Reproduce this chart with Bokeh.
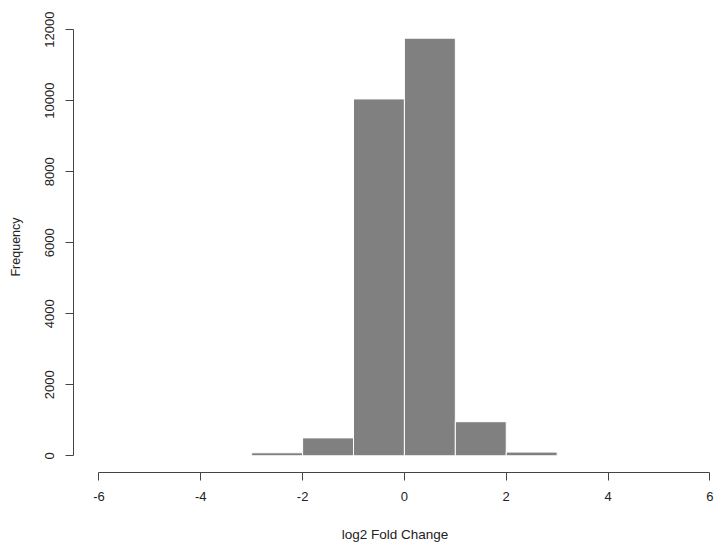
from bokeh.plotting import figure
from bokeh.models import Range1d, FixedTicker
from bokeh.embed import file_html
from bokeh.resources import INLINE

# Histogram data (log2 fold change bins)
bin_edges = [-3, -2, -1, 0, 1, 2, 3]
frequencies = [85, 505, 10050, 11760, 960, 105]
x_ticks = [-6, -4, -2, 0, 2, 4, 6]
y_ticks = [0, 2000, 4000, 6000, 8000, 10000, 12000]

p = figure(width=717, height=544,
           x_range=Range1d(-6.5, 6.13), y_range=Range1d(-470, 12230),
           output_backend="svg", toolbar_location=None,
           min_border_left=73, min_border_right=1,
           min_border_top=21, min_border_bottom=71)

p.quad(left=bin_edges[:-1], right=bin_edges[1:], bottom=0, top=frequencies,
       fill_color="#808080", line_color="white", line_width=1)

p.grid.visible = False
p.outline_line_color = None
p.background_fill_color = "white"
p.border_fill_color = "white"

FONT = "Liberation Sans"
for ax in (p.xaxis[0], p.yaxis[0]):
    ax.axis_line_color = "#444444"
    ax.major_tick_line_color = "#444444"
    ax.minor_tick_line_color = None
    ax.major_tick_in = 0
    ax.major_tick_out = 8
    ax.major_label_text_font = FONT
    ax.major_label_text_font_size = "13px"
    ax.major_label_text_color = "#222222"
    ax.axis_label_text_font = FONT
    ax.axis_label_text_font_style = "normal"
    ax.axis_label_text_color = "#222222"

p.xaxis[0].ticker = FixedTicker(ticks=x_ticks)
p.xaxis[0].major_label_overrides = {t: str(t) for t in x_ticks}
p.xaxis[0].bounds = (-6, 6)
p.xaxis[0].axis_label = "log2 Fold Change"
p.xaxis[0].axis_label_text_font_size = "13.5px"
p.xaxis[0].major_label_standoff = 11
p.xaxis[0].axis_label_standoff = 23

p.yaxis[0].ticker = FixedTicker(ticks=y_ticks)
p.yaxis[0].bounds = (0, 12000)
p.yaxis[0].axis_label = "Frequency"
p.yaxis[0].axis_label_text_font_size = "12.5px"
p.yaxis[0].major_label_orientation = "vertical"
p.yaxis[0].major_label_standoff = 11
p.yaxis[0].axis_label_standoff = 20

open("out.html", "w").write(file_html(p, INLINE))
